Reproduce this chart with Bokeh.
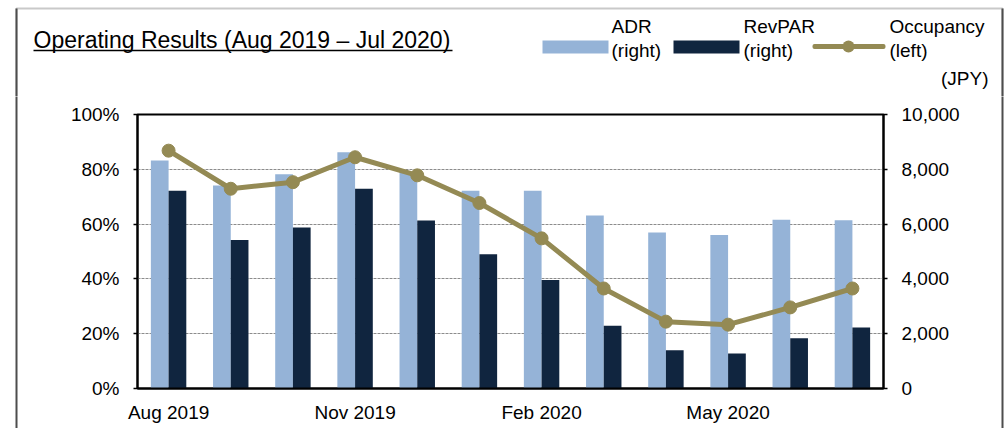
from bokeh.plotting import figure
from bokeh.layouts import column, row
from bokeh.models import (FactorRange, Range1d, LinearAxis, FixedTicker, NumeralTickFormatter,
                          PrintfTickFormatter, CustomJSTickFormatter, Label, BoxAnnotation,
                          ColumnDataSource)
from bokeh.transform import dodge
from bokeh.embed import file_html
from bokeh.resources import INLINE

# ---- data ----
months = ["Aug 2019", "Sep 2019", "Oct 2019", "Nov 2019", "Dec 2019", "Jan 2020",
          "Feb 2020", "Mar 2020", "Apr 2020", "May 2020", "Jun 2020", "Jul 2020"]
adr = [8320, 7410, 7820, 8620, 7900, 7220, 7220, 6310, 5690, 5600, 6160, 6140]
revpar = [7220, 5420, 5880, 7290, 6130, 4900, 3960, 2290, 1400, 1280, 1830, 2230]
occupancy = [86.8, 72.9, 75.3, 84.4, 77.8, 67.7, 54.8, 36.5, 24.4, 23.3, 29.6, 36.5]
shown_month_labels = ["Aug 2019", "Nov 2019", "Feb 2020", "May 2020"]
left_ticks = [0, 20, 40, 60, 80, 100]
right_ticks = [0, 2000, 4000, 6000, 8000, 10000]
title_text = "Operating Results (Aug 2019 \u2013 Jul 2020)"
legend_names = ["ADR", "RevPAR", "Occupancy"]
legend_sides = ["(right)", "(right)", "(left)"]
unit_text = "(JPY)"

FONT = "Liberation Sans"
ADR_C = "#95B3D7"
REV_C = "#10253F"
OCC_C = "#948A54"
BOX_C = "#4D4D4D"

TOTAL_W, TOTAL_H = 1007, 428
HEAD_H = 96
LS_W, RS_W = 20, 10
MAIN_W = TOTAL_W - LS_W - RS_W
MAIN_H = TOTAL_H - HEAD_H


def no_align(f):
    try:
        f.frame_align = False
    except Exception:
        pass


def blank_fig(w, h):
    f = figure(width=w, height=h, x_range=Range1d(0, w), y_range=Range1d(h, 0),
               x_axis_type=None, y_axis_type=None, output_backend="svg",
               toolbar_location=None, min_border=0)
    f.min_border_left = f.min_border_right = f.min_border_top = f.min_border_bottom = 0
    f.outline_line_color = None
    f.border_fill_color = "white"
    f.background_fill_color = "white"
    no_align(f)
    return f


# ---------------- header (title, legend, unit) ----------------
hd = blank_fig(TOTAL_W, HEAD_H)
# outer box (top + sides)
hd.add_layout(BoxAnnotation(left=16, right=1002, top=8, bottom=400, fill_alpha=0,
                            line_color=BOX_C, line_width=2))
for bx in (15, 1001):
    hd.add_layout(BoxAnnotation(left=bx, right=bx + 2, top=8, bottom=HEAD_H + 20,
                                fill_color=BOX_C, fill_alpha=1, line_color=None))
hd.add_layout(Label(x=33, y=39.5, text=title_text, text_font=FONT, text_font_size="23px",
                    text_baseline="alphabetic", text_color="black"))
hd.add_layout(BoxAnnotation(left=33, right=452, top=49.3, bottom=50.8, fill_color="black",
                            fill_alpha=1, line_color=None))

# legend: swatches
hd.add_layout(BoxAnnotation(left=542, right=608, top=40, bottom=53, fill_color=ADR_C,
                            fill_alpha=1, line_color=None))
hd.add_layout(BoxAnnotation(left=673, right=739, top=40, bottom=53, fill_color=REV_C,
                            fill_alpha=1, line_color=None))
hd.add_layout(BoxAnnotation(left=812, right=885, top=43.5, bottom=48.5, fill_color=OCC_C,
                            fill_alpha=1, line_color=None, border_radius=2))
hd.add_layout(BoxAnnotation(left=842, right=854, top=40, bottom=52, fill_color=OCC_C,
                            fill_alpha=1, line_color=None, border_radius=6))
for name, side, tx in zip(legend_names, legend_sides, [611, 743, 889]):
    hd.add_layout(Label(x=tx, y=26, text=name, text_font=FONT, text_font_size="19px",
                        text_baseline="alphabetic", text_color="black"))
    hd.add_layout(Label(x=tx, y=50, text=side, text_font=FONT, text_font_size="19px",
                        text_baseline="alphabetic", text_color="black"))
hd.add_layout(Label(x=988, y=78, text=unit_text, text_font=FONT, text_font_size="19px",
                    text_align="right", text_baseline="alphabetic", text_color="black"))

# ---------------- side strips (outer box sides) ----------------
ls = blank_fig(LS_W, MAIN_H)
ls.add_layout(BoxAnnotation(left=15, right=17, top=-50, bottom=MAIN_H + 50,
                            fill_color=BOX_C, fill_alpha=1, line_color=None))
rs = blank_fig(RS_W, MAIN_H)
rx = 1001 - (TOTAL_W - RS_W)
rs.add_layout(BoxAnnotation(left=rx, right=rx + 2, top=-50, bottom=MAIN_H + 50,
                            fill_color=BOX_C, fill_alpha=1, line_color=None))

# ---------------- main chart ----------------
src = ColumnDataSource(dict(month=months, adr=adr, revpar=revpar, occ=occupancy))

FL = 137 - LS_W
FR = MAIN_W - (883 - LS_W)
FT = 114 - HEAD_H
FB = MAIN_H - (388 - HEAD_H)

p = figure(width=MAIN_W, height=MAIN_H, x_range=FactorRange(*months, range_padding=0),
           y_range=Range1d(0, 100), output_backend="svg", toolbar_location=None,
           min_border_left=FL, min_border_right=FR, min_border_top=FT, min_border_bottom=FB)
no_align(p)
p.extra_y_ranges = {"jpy": Range1d(0, 10000)}
p.outline_line_color = "black"
p.outline_line_width = 2
p.background_fill_color = "white"
p.border_fill_color = "white"

bw = 0.285
p.vbar(x=dodge("month", -bw / 2, range=p.x_range), top="adr", width=bw, source=src,
       y_range_name="jpy", fill_color=ADR_C, line_color=None)
p.vbar(x=dodge("month", bw / 2, range=p.x_range), top="revpar", width=bw, source=src,
       y_range_name="jpy", fill_color=REV_C, line_color=None)
p.line(x="month", y="occ", source=src, line_color=OCC_C, line_width=5, line_cap="round",
       line_join="round")
p.scatter(x="month", y="occ", source=src, size=13, fill_color=OCC_C, line_color=OCC_C)

p.xgrid.visible = False
p.ygrid.ticker = FixedTicker(ticks=left_ticks[1:-1])
p.ygrid.grid_line_color = "#8C8C8C"
p.ygrid.grid_line_dash = "3 1"
p.ygrid.grid_line_width = 1


def style_axis(ax):
    ax.axis_line_color = "black"
    ax.axis_line_width = 2
    ax.major_label_text_font = FONT
    ax.major_label_text_font_size = "19px"
    ax.major_label_text_color = "black"
    ax.minor_tick_line_color = None


xa = p.xaxis[0]
style_axis(xa)
xa.major_tick_line_color = None
xa.major_label_standoff = 7
xa.formatter = CustomJSTickFormatter(args=dict(shown=shown_month_labels),
                                     code="return shown.includes(tick) ? tick : ''")

ya = p.yaxis[0]
style_axis(ya)
ya.ticker = FixedTicker(ticks=left_ticks)
ya.formatter = PrintfTickFormatter(format="%d%%")
ya.major_tick_out = 4
ya.major_tick_in = 0
ya.major_tick_line_width = 1.5
ya.major_label_standoff = 14

ra = LinearAxis(y_range_name="jpy")
style_axis(ra)
ra.ticker = FixedTicker(ticks=right_ticks)
ra.formatter = NumeralTickFormatter(format="0,0")
ra.major_tick_out = 4
ra.major_tick_in = 0
ra.major_tick_line_width = 1.5
ra.major_label_standoff = 14
p.add_layout(ra, "right")

layout = column(hd, row(ls, p, rs, spacing=0), spacing=0)
open("out.html", "w").write(file_html(layout, INLINE))
